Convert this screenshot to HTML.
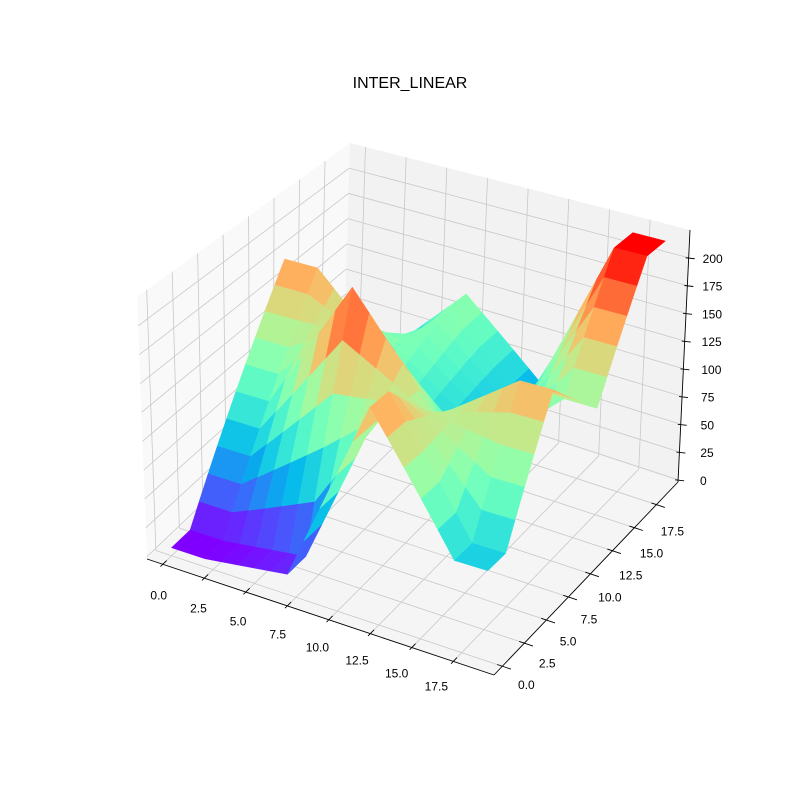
<!DOCTYPE html>
<html><head><meta charset="utf-8"><style>
html,body{margin:0;padding:0;background:#fff;}
svg{display:block;font-family:"Liberation Sans","DejaVu Sans",sans-serif;}
</style></head><body>
<svg id="chart" width="800" height="800" viewBox="0 0 800 800">
<text x="410" y="88" font-size="16" text-anchor="middle" fill="#000">INTER_LINEAR</text>
</svg>
<script>
// source image (4x4) resized to 20x20 with INTER_LINEAR; rows indexed by x block, columns by y block
const sourceRow0 = [5, 90, 175, 40];
const sourceRow1 = [15, 212, 100, 120];
const sourceRow2 = [175, 120, 55, 55];
const sourceRow3 = [70, 170, 120, 218];
const sourceImage = [sourceRow0, sourceRow1, sourceRow2, sourceRow3];
const gridSize = 20;
const xTicks = [0, 2.5, 5, 7.5, 10, 12.5, 15, 17.5];
const yTicks = [0, 2.5, 5, 7.5, 10, 12.5, 15, 17.5];
const zTicks = [0, 25, 50, 75, 100, 125, 150, 175, 200];

const NS = 'http://www.w3.org/2000/svg';
const svg = document.getElementById('chart');
const xmin = -0.95, xmax = 19.95, ymin = -0.95, ymax = 19.95, zmin = -2, zmax = 225;
const C = {
  '000': [147, 559], '100': [494, 675], '110': [678, 482], '010': [343, 372],
  '001': [137, 297], '101': [498, 388], '111': [690, 230], '011': [350, 143]
};
function projN(a, b, c) {
  let X = 0, Y = 0;
  for (const k in C) {
    const wx = k[0] === '1' ? a : 1 - a, wy = k[1] === '1' ? b : 1 - b, wz = k[2] === '1' ? c : 1 - c;
    const w = wx * wy * wz; X += w * C[k][0]; Y += w * C[k][1];
  }
  return [X, Y];
}
const nx = v => (v - xmin) / (xmax - xmin);
const ny = v => (v - ymin) / (ymax - ymin);
const nz = v => (v - zmin) / (zmax - zmin);
function proj(x, y, z) { return projN(nx(x), ny(y), nz(z)); }

function mk(tag, attrs, parent) {
  const e = document.createElementNS(NS, tag);
  for (const k in attrs) e.setAttribute(k, attrs[k]);
  (parent || svg).appendChild(e);
  return e;
}
function poly(pts) { return pts.map(p => p[0].toFixed(2) + ',' + p[1].toFixed(2)).join(' '); }

const gPanes = mk('g', {});


const leftPane = mk('polygon', {points: poly([projN(0,0,0), projN(0,1,0), projN(0,1,1), projN(0,0,1)]), fill: '#f9f9f9', stroke: 'none'}, gPanes);


const backPane = mk('polygon', {points: poly([projN(0,1,0), projN(1,1,0), projN(1,1,1), projN(0,1,1)]), fill: '#f2f2f2', stroke: 'none'}, gPanes);


const floorPane = mk('polygon', {points: poly([projN(0,0,0), projN(1,0,0), projN(1,1,0), projN(0,1,0)]), fill: '#f5f5f5', stroke: 'none'}, gPanes);



const gGrid = mk('g', {stroke: '#c8c8c8', 'stroke-width': 0.8, fill: 'none'});


function line(p, q, parent, attrs) {
  const a = Object.assign({x1: p[0], y1: p[1], x2: q[0], y2: q[1]}, attrs || {});
  return mk('line', a, parent);
}
xTicks.forEach(v => {
  const a = nx(v);
  const l1 = line(projN(a,0,0), projN(a,1,0), gGrid);
  
  
  const l2 = line(projN(a,1,0), projN(a,1,1), gGrid);
  
  
});
yTicks.forEach(v => {
  const b = ny(v);
  const l1 = line(projN(0,b,0), projN(1,b,0), gGrid);
  
  
  const l2 = line(projN(0,b,0), projN(0,b,1), gGrid);
  
  
});
zTicks.forEach(v => {
  const c = nz(v);
  const l1 = line(projN(0,0,c), projN(0,1,c), gGrid);
  
  
  const l2 = line(projN(0,1,c), projN(1,1,c), gGrid);
  
  
});

const gAxes = mk('g', {stroke: '#000', 'stroke-width': 0.9, fill: 'none'});


const xAxisLine = line(projN(0,0,0), projN(1,0,0), gAxes);


const yAxisLine = line(projN(1,0,0), projN(1,1,0), gAxes);


const zAxisLine = line(projN(1,1,0), projN(1,1,1), gAxes);



const gLabels = mk('g', {'font-size': 12, fill: '#000'});


function fmt1(v) { return v.toFixed(1); }
xTicks.forEach(v => {
  const a = nx(v);
  const p = projN(a,0,0), q1 = projN(a,-0.012,0), q2 = projN(a,0.02,0);
  const t = line(q1, q2, gAxes);
  
  
  const f = v / 17.5;
  const tx = mk('text', {x: p[0] - 4 - 13 * f, y: p[1] + 31 - 6 * f + 4, 'text-anchor': 'middle'}, gLabels);
  tx.textContent = fmt1(v);
  
  
});
yTicks.forEach(v => {
  const b = ny(v);
  const p = projN(1,b,0), q1 = projN(0.985,b,0), q2 = projN(1.025,b,0);
  const t = line(q1, q2, gAxes);
  
  
  const f = v / 17.5;
  const tx = mk('text', {x: p[0] + 24 - 8 * f, y: p[1] + 19 + 8 * f + 4, 'text-anchor': 'middle'}, gLabels);
  tx.textContent = fmt1(v);
  
  
});
zTicks.forEach(v => {
  const c = nz(v);
  const p = projN(1,1,c);
  const t = line([p[0] - 3, p[1]], [p[0] + 6, p[1] + 1], gAxes);
  
  
  const tx = mk('text', {x: 700 + 3 * c, y: p[1] + 5, 'text-anchor': 'start'}, gLabels);
  tx.textContent = String(v);
  
  
});

function resizeLinear(src, n) {
  const m = src.length, scale = m / n, out = [];
  function coord(d) {
    let s = (d + 0.5) * scale - 0.5;
    if (s < 0) s = 0;
    let i0 = Math.floor(s), fr = s - i0;
    if (i0 >= m - 1) { i0 = m - 1; fr = 0; }
    return [i0, fr];
  }
  for (let i = 0; i < n; i++) {
    const [a0, fa] = coord(i); const a1 = Math.min(a0 + 1, m - 1);
    const row = [];
    for (let j = 0; j < n; j++) {
      const [b0, fb] = coord(j); const b1 = Math.min(b0 + 1, m - 1);
      row.push((1 - fa) * ((1 - fb) * src[a0][b0] + fb * src[a0][b1]) + fa * ((1 - fb) * src[a1][b0] + fb * src[a1][b1]));
    }
    out.push(row);
  }
  return out;
}
const Z = resizeLinear(sourceImage, gridSize);

function rainbow(t) {
  t = Math.max(0, Math.min(1, t));
  const r = Math.min(1, Math.abs(2 * t - 0.5)), g = Math.sin(Math.PI * t), b = Math.cos(Math.PI / 2 * t);
  return 'rgb(' + Math.round(r * 255) + ',' + Math.round(Math.max(0, g) * 255) + ',' + Math.round(Math.max(0, b) * 255) + ')';
}

const facets = [];
let fmin = Infinity, fmax = -Infinity;
for (let i = 0; i < gridSize - 1; i++) {
  for (let j = 0; j < gridSize - 1; j++) {
    const zs = [Z[i][j], Z[i + 1][j], Z[i + 1][j + 1], Z[i][j + 1]];
    const avg = (zs[0] + zs[1] + zs[2] + zs[3]) / 4;
    fmin = Math.min(fmin, avg); fmax = Math.max(fmax, avg);
    const cx = nx(i + 0.5), cy = ny(j + 0.5), cz = nz(avg) * 0.75;
    const near = 0.433 * cx - 0.75 * cy + 0.5 * cz;
    facets.push({i, j, zs, avg, near});
  }
}
facets.sort((a, b) => a.near - b.near);
const gSurf = mk('g', {});


facets.forEach(f => {
  const {i, j, zs} = f;
  const pts = [proj(i, j, zs[0]), proj(i + 1, j, zs[1]), proj(i + 1, j + 1, zs[2]), proj(i, j + 1, zs[3])];
  const col = rainbow((f.avg - fmin) / (fmax - fmin));
  const p = mk('polygon', {points: poly(pts), fill: col, stroke: col, 'stroke-width': 0.4, 'stroke-linejoin': 'round'}, gSurf);
  
  
});
</script>
</body></html>
